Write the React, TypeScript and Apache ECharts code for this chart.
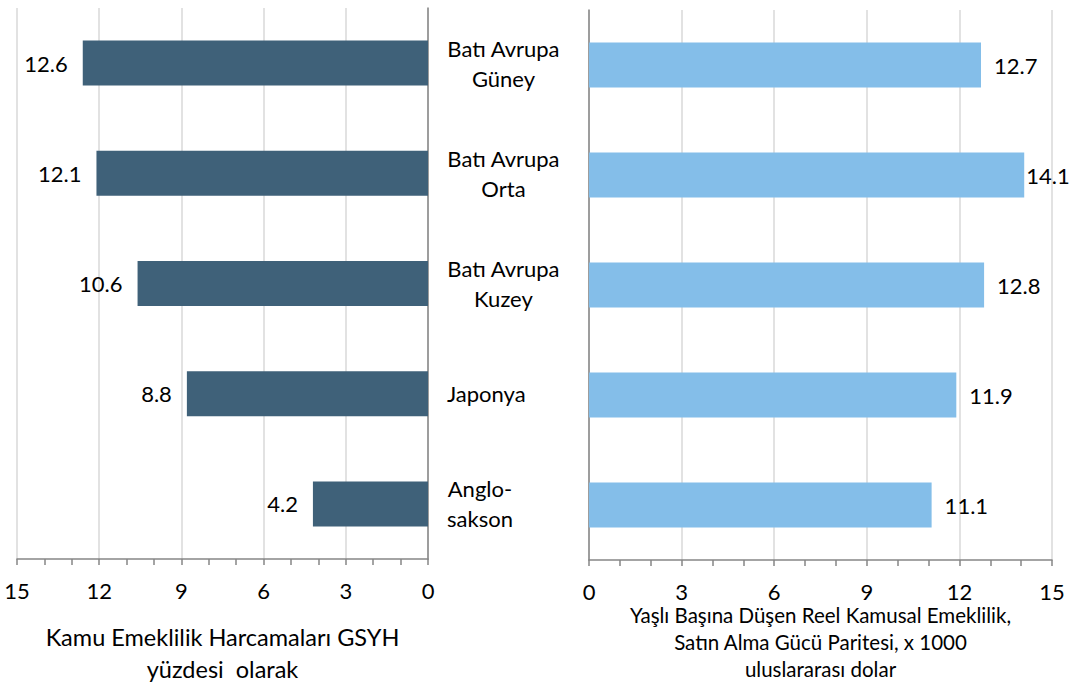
import React, { useEffect, useRef } from "react";
import * as echarts from "echarts";

const categories = [
  "Batı Avrupa\nGüney",
  "Batı Avrupa\nOrta",
  "Batı Avrupa\nKuzey",
  "Japonya",
  "Anglo-\nsakson",
];
const spendingGdp = [12.6, 12.1, 10.6, 8.8, 4.2];
const pensionPerElder = [12.7, 14.1, 12.8, 11.9, 11.1];
const axisMin = 0;
const axisMax = 15;
const axisStep = 3;
const leftTitle = "Kamu Emeklilik Harcamaları GSYH\nyüzdesi  olarak";
const rightTitle =
  "Yaşlı Başına Düşen Reel Kamusal Emeklilik,\nSatın Alma Gücü Paritesi, x 1000\nuluslararası dolar";

const FONT = "Lato, 'Noto Sans', sans-serif";
const AXIS_GRAY = "#868686";
const GRID_GRAY = "#D9D9D9";

export default function App() {
  const ref = useRef<HTMLDivElement>(null);
  useEffect(() => {
    if (!ref.current) return;
    const chart = echarts.init(ref.current, null, { renderer: "svg" });

    const valueAxis = (gridIndex: number, inverse: boolean, name: string, nameGap: number, nameSize: number, nameLH: number) => ({
      type: "value",
      gridIndex,
      inverse,
      min: axisMin,
      max: axisMax,
      interval: axisStep,
      position: "bottom",
      name,
      nameLocation: "middle",
      nameGap,
      nameMoveOverlap: false,
      nameTextStyle: { fontFamily: FONT, fontSize: nameSize, lineHeight: nameLH, color: "#000" },
      axisLine: { show: true, lineStyle: { color: AXIS_GRAY, width: 1.5 } },
      axisTick: { show: true, length: 6, lineStyle: { color: AXIS_GRAY, width: 1.5 } },
      minorTick: { show: true, splitNumber: 3, length: 6, lineStyle: { color: AXIS_GRAY, width: 1.5 } },
      axisLabel: { fontFamily: FONT, fontSize: 22, color: "#000", margin: 20 },
      splitLine: { show: true, lineStyle: { color: GRID_GRAY, width: 1.5 } },
    });

    chart.setOption({
      animation: false,
      grid: [
        { left: 17, right: 1073 - 428, top: 8, bottom: 682 - 559, outerBoundsMode: "none", containLabel: false },
        { left: 589, right: 1073 - 1052, top: 10, bottom: 682 - 560, outerBoundsMode: "none", containLabel: false },
      ],
      xAxis: [
        valueAxis(0, true, leftTitle, 62, 23.5, 32),
        valueAxis(1, false, rightTitle, 41, 20.5, 27),
      ],
      yAxis: [
        {
          type: "category",
          gridIndex: 0,
          data: categories,
          inverse: true,
          position: "right",
          axisLine: { show: true, onZero: false, lineStyle: { color: AXIS_GRAY, width: 1.5 } },
          axisTick: { show: false },
          axisLabel: {
            show: true,
            margin: 19,
            align: "left",
            formatter: (v: string) =>
              v
                .split("\n")
                .map((l) => `{c|${l}}`)
                .join("\n"),
            rich: {
              c: { align: "center", fontFamily: FONT, fontSize: 22, lineHeight: 30, color: "#000" },
            },
          },
          splitLine: { show: false },
        },
        {
          type: "category",
          gridIndex: 1,
          data: categories,
          inverse: true,
          position: "left",
          axisLine: { show: true, onZero: false, lineStyle: { color: AXIS_GRAY, width: 1.5 } },
          axisTick: { show: false },
          axisLabel: { show: false },
          splitLine: { show: false },
        },
      ],
      series: [
        {
          type: "bar",
          xAxisIndex: 0,
          yAxisIndex: 0,
          data: spendingGdp,
          barWidth: 45,
          itemStyle: { color: "#3F6179" },
          label: {
            show: true,
            position: "left",
            distance: 15,
            fontFamily: FONT,
            fontSize: 22,
            color: "#000",
          },
        },
        {
          type: "bar",
          xAxisIndex: 1,
          yAxisIndex: 1,
          data: pensionPerElder.map((v, i) =>
            i === 1 ? { value: v, label: { distance: 2 } } : v
          ),
          barWidth: 45,
          itemStyle: { color: "#84BEE9" },
          label: {
            show: true,
            position: "right",
            distance: 13,
            fontFamily: FONT,
            fontSize: 22,
            color: "#000",
          },
        },
      ],
    });
    return () => chart.dispose();
  }, []);
  return (
    <div
      ref={ref}
      style={{ position: "fixed", left: 0, top: 0, width: 1073, height: 682, background: "#fff" }}
    />
  );
}
